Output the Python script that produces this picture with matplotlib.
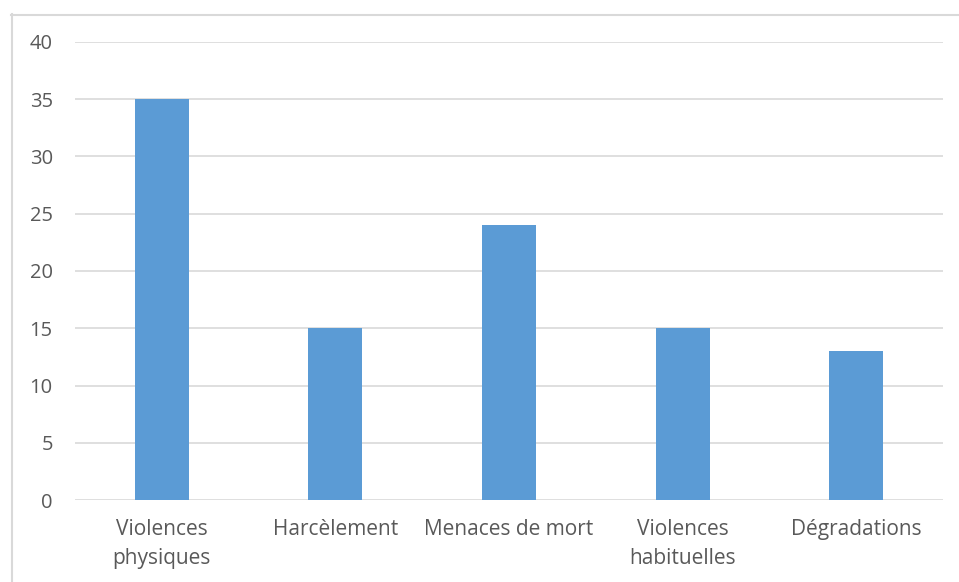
import matplotlib
matplotlib.use("Agg")
import matplotlib.pyplot as plt
from matplotlib.lines import Line2D

categories = ["Violences\nphysiques", "Harcèlement", "Menaces de mort", "Violences\nhabituelles", "Dégradations"]
values = [35, 15, 24, 15, 13]
yticks = [0, 5, 10, 15, 20, 25, 30, 35, 40]

plt.rcParams['font.family'] = ['Open Sans', 'DejaVu Sans']
W, H = 959, 582
fig = plt.figure(figsize=(W/100, H/100), dpi=100)
ax = fig.add_axes([75/W, 1-500/H, (943-75)/W, (500-42)/H])

x = list(range(len(categories)))
ax.bar(x, values, width=0.31, color="#5b9bd5", zorder=3)
ax.set_xlim(-0.5, len(categories)-0.5)
ax.set_ylim(0, 40)
ax.set_yticks(yticks)
ax.set_xticks(x)
ax.set_xticklabels(categories, linespacing=1.5)
ax.grid(axis='y', color="#d9d9d9", linewidth=1.2, zorder=0)
for s in ax.spines.values():
    s.set_visible(False)
ax.tick_params(axis='both', length=0, colors="#595959")
ax.tick_params(axis='y', pad=16, labelsize=14.5)
ax.tick_params(axis='x', pad=14, labelsize=15)

fig.add_artist(Line2D([11.5/W, 11.5/W], [0, 1-14/H], color="#d9d9d9", lw=1.5, transform=fig.transFigure))
fig.add_artist(Line2D([11/W, 1], [1-14.5/H, 1-14.5/H], color="#d9d9d9", lw=1.5, transform=fig.transFigure))

fig.savefig("out.png", dpi=100)
